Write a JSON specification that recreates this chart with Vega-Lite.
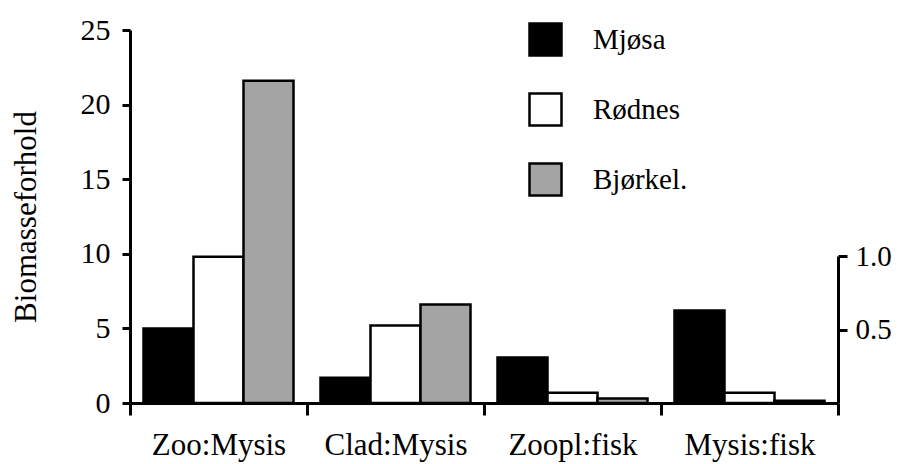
{
  "$schema": "https://vega.github.io/schema/vega-lite/v6.json",
  "width": 708,
  "height": 373,
  "autosize": {"type": "none"},
  "padding": {"left": 130, "top": 30, "right": 71, "bottom": 61},
  "background": "white",
  "config": {
    "view": {"stroke": null},
    "font": "Liberation Serif",
    "axis": {"grid": false, "domainColor": "black", "tickColor": "black", "labelColor": "black", "titleColor": "black", "domainWidth": 3, "tickWidth": 3, "labelFont": "Liberation Serif", "titleFont": "Liberation Serif"},
    "legend": {"labelFont": "Liberation Serif"}
  },
  "data": {
    "values": [
      {"ratio": "Zoo:Mysis", "lake": "Mjøsa", "value": 5.0},
      {"ratio": "Zoo:Mysis", "lake": "Rødnes", "value": 9.8},
      {"ratio": "Zoo:Mysis", "lake": "Bjørkel.", "value": 21.6},
      {"ratio": "Clad:Mysis", "lake": "Mjøsa", "value": 1.7},
      {"ratio": "Clad:Mysis", "lake": "Rødnes", "value": 5.2},
      {"ratio": "Clad:Mysis", "lake": "Bjørkel.", "value": 6.6},
      {"ratio": "Zoopl:fisk", "lake": "Mjøsa", "value": 0.31},
      {"ratio": "Zoopl:fisk", "lake": "Rødnes", "value": 0.07},
      {"ratio": "Zoopl:fisk", "lake": "Bjørkel.", "value": 0.03},
      {"ratio": "Mysis:fisk", "lake": "Mjøsa", "value": 0.63},
      {"ratio": "Mysis:fisk", "lake": "Rødnes", "value": 0.07},
      {"ratio": "Mysis:fisk", "lake": "Bjørkel.", "value": 0.015}
    ]
  },
  "encoding": {
    "x": {
      "field": "ratio", "type": "nominal",
      "scale": {"domain": ["Zoo:Mysis", "Clad:Mysis", "Zoopl:fisk", "Mysis:fisk"], "paddingInner": 0, "paddingOuter": 0},
      "axis": {"title": null, "labelAngle": 0, "tickBand": "extent", "tickSize": 12, "labelPadding": 15, "labelFontSize": 31}
    },
    "xOffset": {
      "field": "lake", "type": "nominal",
      "scale": {"domain": ["Mjøsa", "Rødnes", "Bjørkel."], "paddingInner": 0, "paddingOuter": 0.27}
    },
    "color": {
      "field": "lake", "type": "nominal",
      "scale": {"domain": ["Mjøsa", "Rødnes", "Bjørkel."], "range": ["#000000", "#ffffff", "#a4a4a4"]},
      "legend": {
        "title": null, "orient": "none", "legendX": 398, "legendY": -8, "padding": 0,
        "symbolType": "square", "symbolSize": 1024, "symbolStrokeColor": "black", "symbolStrokeWidth": 2.5, "symbolOpacity": 1,
        "labelFontSize": 29, "labelOffset": 30, "rowPadding": 27, "labelColor": "black"
      }
    }
  },
  "layer": [
    {
      "transform": [{"filter": {"field": "ratio", "oneOf": ["Zoo:Mysis", "Clad:Mysis"]}}],
      "mark": {"type": "bar", "stroke": "black", "strokeWidth": 2.5, "opacity": 1},
      "encoding": {
        "y": {
          "field": "value", "type": "quantitative",
          "scale": {"domain": [0, 25], "nice": false},
          "axis": {"orient": "left", "values": [0, 5, 10, 15, 20, 25], "tickSize": 8, "labelPadding": 12, "labelFontSize": 30, "title": "Biomasseforhold", "titleFontSize": 31, "titleFontWeight": "normal", "titlePadding": 38}
        }
      }
    },
    {
      "transform": [{"filter": {"field": "ratio", "oneOf": ["Zoopl:fisk", "Mysis:fisk"]}}],
      "mark": {"type": "bar", "stroke": "black", "strokeWidth": 2.5, "opacity": 1},
      "encoding": {
        "y": {
          "field": "value", "type": "quantitative",
          "scale": {"domain": [0, 1], "range": [373, 226], "nice": false},
          "axis": {"orient": "right", "values": [0.5, 1.0], "format": ".1f", "tickSize": 9, "labelPadding": 8, "labelFontSize": 29, "title": null}
        }
      }
    }
  ],
  "resolve": {"scale": {"y": "independent"}, "axis": {"y": "independent"}}
}
